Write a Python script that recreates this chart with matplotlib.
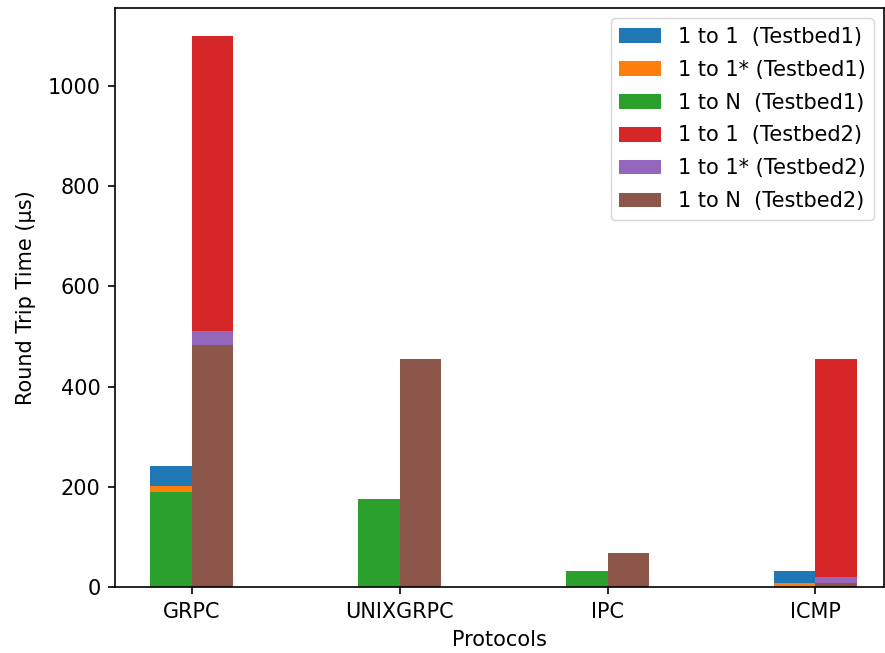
import matplotlib.pyplot as plt
import numpy as np

protocols = ["GRPC", "UNIXGRPC", "IPC", "ICMP"]

# Testbed1
one_to_one_tb1 = [242, 0, 0, 32]
one_to_one_star_tb1 = [201, 0, 0, 7]
one_to_n_tb1 = [189, 176, 32, 0]

# Testbed2
one_to_one_tb2 = [1101, 0, 0, 455]
one_to_one_star_tb2 = [511, 0, 0, 19]
one_to_n_tb2 = [484, 455, 67, 7]

x = np.arange(len(protocols))
width = 0.2

# reference looks like a default style figure saved at ~1.5x
scale = 1.5
plt.rcParams.update({
    "font.size": 10 * scale,
    "axes.linewidth": 0.8 * scale,
    "xtick.major.size": 3.5 * scale,
    "ytick.major.size": 3.5 * scale,
    "xtick.major.width": 0.8 * scale,
    "ytick.major.width": 0.8 * scale,
    "xtick.major.pad": 3.5 * scale,
    "ytick.major.pad": 3.5 * scale,
    "axes.labelpad": 4 * scale,
    "legend.fontsize": 10 * scale,
})

fig = plt.figure(figsize=(8.85, 6.53), dpi=100)
ax = fig.add_axes([115 / 885, 66 / 653, 769 / 885, 579 / 653])

ax.bar(x - width / 2, one_to_one_tb1, width, label="1 to 1  (Testbed1)")
ax.bar(x - width / 2, one_to_one_star_tb1, width, label="1 to 1* (Testbed1)")
ax.bar(x - width / 2, one_to_n_tb1, width, label="1 to N  (Testbed1)")
ax.bar(x + width / 2, one_to_one_tb2, width, label="1 to 1  (Testbed2)")
ax.bar(x + width / 2, one_to_one_star_tb2, width, label="1 to 1* (Testbed2)")
ax.bar(x + width / 2, one_to_n_tb2, width, label="1 to N  (Testbed2)")

ax.set_xticks(x)
ax.set_xticklabels(protocols)
ax.set_xlim(-0.37, 3.33)
ax.set_xlabel("Protocols")
ax.set_ylabel("Round Trip Time (µs)", labelpad=8)
ax.legend(labelspacing=0.62)

fig.savefig("out.png", dpi=100)
